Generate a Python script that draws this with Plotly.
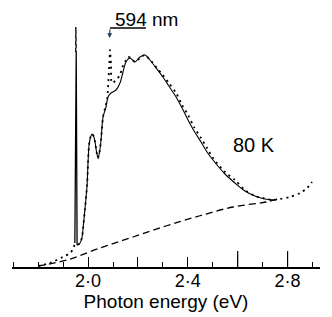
import plotly.graph_objects as go

meas_e = [1.800, 1.847, 1.899, 1.928, 1.940, 1.948,
          1.956, 1.968, 1.976, 1.980, 1.988, 1.996, 2.000, 2.004, 2.010, 2.016,
          2.022, 2.028, 2.034, 2.040, 2.046, 2.052, 2.060, 2.068, 2.076, 2.080,
          2.086, 2.088, 2.092, 2.096, 2.112, 2.128, 2.136, 2.148, 2.160, 2.172,
          2.188, 2.208, 2.228, 2.248, 2.260, 2.276, 2.300, 2.324, 2.353, 2.377,
          2.401, 2.425, 2.453, 2.477, 2.501, 2.549, 2.589, 2.629, 2.669, 2.701,
          2.741, 2.770, 2.810, 2.850, 2.878, 2.898]
meas_i = [1, 4, 10, 14, 18, 23,
          22, 24, 30, 39, 59, 82, 105, 122, 130, 133,
          131, 125, 115, 109, 115, 127, 150, 159, 167, 179,
          207, 217, 202, 184, 187, 192, 199, 205, 210, 209,
          205, 209, 212, 207, 204, 199, 192, 184, 174, 162,
          152, 140, 129, 119, 109, 95, 87, 77, 71, 69,
          67, 68, 70, 74, 79, 85]

# fitted curve (solid)
fit_e = [1.956, 1.968, 1.976, 1.980, 1.988, 1.996, 2.000, 2.004, 2.010, 2.016,
         2.022, 2.028, 2.034, 2.040, 2.046, 2.052, 2.060, 2.072, 2.080, 2.092,
         2.112, 2.128, 2.140, 2.152, 2.168, 2.188, 2.208, 2.228, 2.248, 2.276,
         2.300, 2.324, 2.353, 2.377, 2.401, 2.425, 2.453, 2.477, 2.501, 2.549,
         2.589, 2.629, 2.669, 2.709, 2.750]
fit_i = [22, 24, 30, 39, 59, 82, 105, 122, 130, 133,
         131, 125, 115, 109, 115, 127, 150, 160, 170, 174,
         177, 184, 195, 205, 209, 205, 210, 212, 207, 198,
         190, 181, 170, 159, 147, 136, 125, 115, 107, 93,
         84, 76, 71, 68, 67]

# background (dashed)
bg_e = [1.799, 1.915, 2.048, 2.180, 2.312, 2.445, 2.581, 2.713, 2.761]
bg_i = [1, 7, 19, 30, 41, 51, 60, 65, 68]

# sharp line near 1.95 eV
spike_e = [1.947, 1.9505, 1.9525, 1.956]
spike_i = [24, 215, 215, 22]
spike_top_e = [1.9505, 1.951, 1.9525]
spike_top_i = [215, 240, 215]

tick_vals = [2.0, 2.2, 2.4, 2.6, 2.8]
tick_text = ['2·0', '', '2·4', '', '2·8']
minor_vals = [1.7, 1.8, 1.9, 2.1, 2.3, 2.5, 2.7, 2.9]
long_ticks = [2.6, 2.8]

fig = go.Figure()
fig.add_trace(go.Scatter(x=bg_e, y=bg_i, mode='lines',
                         line=dict(color='black', width=1.3, dash='7px,4px', shape='spline')))
fig.add_trace(go.Scatter(x=fit_e, y=fit_i, mode='lines',
                         line=dict(color='black', width=1.1, shape='spline', smoothing=0.8)))
fig.add_trace(go.Scatter(x=meas_e, y=meas_i, mode='lines',
                         line=dict(color='black', width=1.8, dash='2px,4px', shape='spline', smoothing=0.8)))
fig.add_trace(go.Scatter(x=spike_e, y=spike_i, mode='lines',
                         line=dict(color='black', width=1.3)))
fig.add_trace(go.Scatter(x=spike_top_e, y=spike_top_i, mode='lines',
                         line=dict(color='black', width=1.3, dash='4px,3px')))

for t in long_ticks:
    fig.add_shape(type='line', x0=t, x1=t, y0=0, y1=16, xref='x', yref='y',
                  line=dict(color='black', width=1.2))

# 594 nm marker
fig.add_shape(type='line', x0=2.088, x1=2.232, y0=239, y1=239, xref='x', yref='y',
              line=dict(color='black', width=1.3))
fig.add_annotation(x=2.086, y=229, ax=2.088, ay=239, axref='x', ayref='y', xref='x', yref='y',
                   text='', showarrow=True, arrowhead=2, arrowsize=0.8, arrowwidth=1.2)
fig.add_annotation(x=2.100, y=248, xref='x', yref='y', text='594 nm', showarrow=False,
                   xanchor='left', yanchor='middle',
                   font=dict(family='Liberation Sans', size=19, color='black'))
fig.add_annotation(x=2.665, y=122, xref='x', yref='y', text='80 K', showarrow=False,
                   font=dict(family='Liberation Sans', size=20, color='black'))

# page body has an 8px margin, so the figure is 8px smaller than the window
fig.update_layout(
    width=324, height=309,
    margin=dict(l=4, r=12, t=0, b=50, autoexpand=False),
    paper_bgcolor='white', plot_bgcolor='white',
    showlegend=False,
    font=dict(family='Liberation Sans', color='black'),
    xaxis=dict(range=[1.695, 2.93], showgrid=False, zeroline=False, automargin=False,
               showline=True, linecolor='black', linewidth=1.5,
               ticks='inside', ticklen=10, tickwidth=1.2, tickcolor='black',
               tickvals=tick_vals, ticktext=tick_text,
               tickfont=dict(size=18), ticklabelstandoff=-3,
               minor=dict(tickvals=minor_vals, ticks='inside', ticklen=5, tickwidth=1.2, tickcolor='black'),
               title=dict(text='Photon energy (eV)', font=dict(size=19), standoff=0)),
    yaxis=dict(range=[0, 259], visible=False),
)

fig.write_html("out.html")
